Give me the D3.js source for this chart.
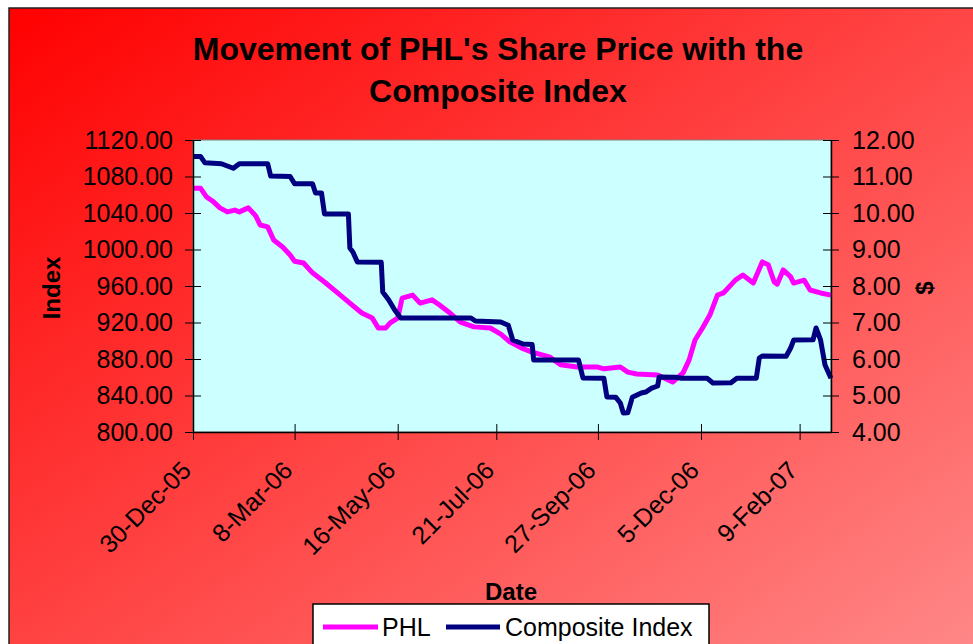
<!DOCTYPE html>
<html>
<head>
<meta charset="utf-8">
<script src="https://cdn.jsdelivr.net/npm/d3@7"></script>
<style>
  html, body { margin: 0; padding: 0; background: #fff; }
  text { font-family: "Liberation Sans", Arial, sans-serif; }
</style>
</head>
<body>
<script>
// Composite Index (left axis)
var compDates = ["2005-12-30","2006-01-04","2006-01-07","2006-01-18","2006-01-22","2006-01-26","2006-01-30",
  "2006-02-18","2006-02-20","2006-03-05","2006-03-08","2006-03-20","2006-03-22","2006-03-26","2006-03-28",
  "2006-04-13","2006-04-14","2006-04-16","2006-04-19","2006-05-05","2006-05-06","2006-05-10","2006-05-14",
  "2006-05-18","2006-07-04","2006-07-07","2006-07-24","2006-07-29","2006-08-01","2006-08-08","2006-08-14",
  "2006-08-15","2006-09-14","2006-09-17","2006-10-01","2006-10-03","2006-10-09","2006-10-12","2006-10-14",
  "2006-10-17","2006-10-20","2006-10-26","2006-10-29","2006-11-02","2006-11-06","2006-11-07","2006-11-18",
  "2006-11-22","2006-12-09","2006-12-13","2006-12-25","2006-12-29","2007-01-11","2007-01-13","2007-01-15",
  "2007-01-31","2007-02-03","2007-02-05","2007-02-18","2007-02-20","2007-02-23","2007-02-26","2007-03-02"];
var compValues = [1102,1102,1095,1094,1091.5,1089,1094,
  1094,1080.5,1080,1072,1072,1062,1062,1039,
  1039,1001.6,997.3,986.3,986,953.4,944.7,933.7,
  925,925,921.6,920.5,917,900.8,896.4,896,
  879,879,859.2,859,838.4,838,831.8,820.8,
  821,838,842.7,843.8,848,850.4,860.3,860,
  859,859,853.7,854,859,859,881.1,883.3,
  883,892,900.8,901,914,901,873.4,859];

// PHL share price (right axis, $)
var phlDates = ["2005-12-30","2006-01-04","2006-01-08","2006-01-12","2006-01-17","2006-01-22","2006-01-27",
  "2006-01-30","2006-02-05","2006-02-10","2006-02-13","2006-02-18","2006-02-22","2006-02-28","2006-03-05",
  "2006-03-08","2006-03-14","2006-03-20","2006-03-28","2006-04-05","2006-04-14","2006-04-22","2006-04-29",
  "2006-05-03","2006-05-08","2006-05-11","2006-05-16","2006-05-19","2006-05-26","2006-05-31","2006-06-08",
  "2006-06-13","2006-06-20","2006-06-27","2006-07-06","2006-07-17","2006-07-24","2006-07-30","2006-08-07",
  "2006-08-14","2006-08-26","2006-09-02","2006-09-13","2006-09-27","2006-10-01","2006-10-12","2006-10-17",
  "2006-10-23","2006-11-06","2006-11-16","2006-11-23","2006-11-27","2006-12-01","2006-12-06","2006-12-11",
  "2006-12-16","2006-12-20","2006-12-28","2007-01-02","2007-01-09","2007-01-15","2007-01-19","2007-01-23",
  "2007-01-25","2007-01-29","2007-02-03","2007-02-05","2007-02-12","2007-02-16","2007-02-23","2007-03-02"];
var phlValues = [10.68,10.68,10.44,10.33,10.14,10.03,10.08,
  10.03,10.14,9.92,9.67,9.62,9.26,9.07,8.85,
  8.68,8.63,8.36,8.11,7.84,7.53,7.26,7.12,
  6.85,6.85,6.99,7.12,7.67,7.75,7.53,7.62,
  7.48,7.26,7.01,6.88,6.85,6.68,6.47,6.30,
  6.19,6.05,5.84,5.78,5.78,5.73,5.78,5.64,
  5.59,5.56,5.37,5.62,5.97,6.52,6.85,7.21,
  7.75,7.81,8.16,8.30,8.08,8.66,8.58,8.11,
  8.05,8.44,8.25,8.08,8.16,7.89,7.81,7.75];

var xTickDates = ["2005-12-30","2006-03-08","2006-05-16","2006-07-21","2006-09-27","2006-12-05","2007-02-09"];
var indexTicks = [800,840,880,920,960,1000,1040,1080,1120];
var priceTicks = [4,5,6,7,8,9,10,11,12];

function drawChart() {
  var W = 973, H = 644;
  var pLeft = 193, pRight = 831, pTop = 140, pBottom = 432;
  var parse = d3.timeParse("%Y-%m-%d");

  var svg = d3.select("body").append("svg").attr("width", W).attr("height", H);

  // background gradient
  var grad = svg.append("defs").append("linearGradient")
    .attr("id", "bg").attr("x1", "0%").attr("y1", "0%").attr("x2", "100%").attr("y2", "100%");
  grad.append("stop").attr("offset", "0%").attr("stop-color", "#ff0000");
  grad.append("stop").attr("offset", "100%").attr("stop-color", "#ff9090");

  svg.append("rect").attr("x", 9).attr("y", 8).attr("width", 1000).attr("height", 700)
    .attr("fill", "url(#bg)").attr("stroke", "#222").attr("stroke-width", 1.5);

  var x = d3.scaleTime().domain([parse("2005-12-30"), parse("2007-03-02")]).range([pLeft, pRight]);
  var yL = d3.scaleLinear().domain([800, 1120]).range([pBottom, pTop]);
  var yR = d3.scaleLinear().domain([4, 12]).range([pBottom, pTop]);

  // plot area
  svg.append("rect").attr("x", pLeft).attr("y", pTop).attr("width", pRight - pLeft).attr("height", pBottom - pTop)
    .attr("fill", "#ccffff").attr("stroke", "#808080").attr("stroke-width", 1);

  // title
  svg.append("text").attr("x", 498).attr("y", 60).attr("text-anchor", "middle")
    .attr("font-size", 32).attr("font-weight", "bold").text("Movement of PHL's Share Price with the");
  svg.append("text").attr("x", 498).attr("y", 102).attr("text-anchor", "middle")
    .attr("font-size", 32).attr("font-weight", "bold").text("Composite Index");

  // lines
  var comp = compDates.map(function (d, i) { return [parse(d), compValues[i]]; });
  var phl = phlDates.map(function (d, i) { return [parse(d), phlValues[i]]; });

  svg.append("path").datum(phl)
    .attr("fill", "none").attr("stroke", "#ff00ff").attr("stroke-width", 5).attr("stroke-linejoin", "round")
    .attr("d", d3.line().x(function (d) { return x(d[0]); }).y(function (d) { return yR(d[1]); }));

  svg.append("path").datum(comp)
    .attr("fill", "none").attr("stroke", "#000080").attr("stroke-width", 5).attr("stroke-linejoin", "round")
    .attr("d", d3.line().x(function (d) { return x(d[0]); }).y(function (d) { return yL(d[1]); }));

  // axes
  var fmt = d3.format(".2f");
  var gL = svg.append("g").attr("transform", "translate(" + pLeft + ",0)")
    .call(d3.axisLeft(yL).tickValues(indexTicks).tickFormat(fmt).tickSize(8).tickSizeOuter(0).tickPadding(12));
  gL.selectAll(".tick line").attr("x1", 8);

  var gR = svg.append("g").attr("transform", "translate(" + pRight + ",0)")
    .call(d3.axisRight(yR).tickValues(priceTicks).tickFormat(fmt).tickSize(8).tickSizeOuter(0).tickPadding(13));
  gR.selectAll(".tick line").attr("x1", -8);

  var gB = svg.append("g").attr("transform", "translate(0," + pBottom + ")")
    .call(d3.axisBottom(x).tickValues(xTickDates.map(parse)).tickFormat(d3.timeFormat("%-d-%b-%y"))
      .tickSize(8).tickSizeOuter(0));
  gB.selectAll(".tick line").attr("y1", -8);
  gB.selectAll(".tick text")
    .attr("x", null).attr("y", null).attr("dy", null)
    .attr("text-anchor", "end")
    .attr("transform", "translate(-1,40) rotate(-45)");

  [gL, gR, gB].forEach(function (g) {
    g.select(".domain").attr("stroke", "#000").attr("stroke-width", 1.5);
    g.selectAll(".tick line").attr("stroke", "#000");
    g.selectAll(".tick text").attr("font-size", 25).attr("fill", "#000")
      .attr("font-family", "'Liberation Sans', Arial, sans-serif");
  });

  // axis titles
  svg.append("text").attr("transform", "translate(60,288) rotate(-90)").attr("text-anchor", "middle")
    .attr("font-size", 24).attr("font-weight", "bold").text("Index");
  svg.append("text").attr("transform", "translate(933,288) rotate(-90)").attr("text-anchor", "middle")
    .attr("font-size", 24).attr("font-weight", "bold").text("$");
  svg.append("text").attr("x", 511).attr("y", 600).attr("text-anchor", "middle")
    .attr("font-size", 24).attr("font-weight", "bold").text("Date");

  // legend
  var lg = svg.append("g");
  lg.append("rect").attr("x", 313).attr("y", 604).attr("width", 396).attr("height", 60)
    .attr("fill", "#fff").attr("stroke", "#000").attr("stroke-width", 1.5);
  lg.append("line").attr("x1", 323).attr("x2", 378).attr("y1", 627).attr("y2", 627)
    .attr("stroke", "#ff00ff").attr("stroke-width", 5);
  lg.append("text").attr("x", 382).attr("y", 636).attr("font-size", 25).text("PHL");
  lg.append("line").attr("x1", 446).attr("x2", 500).attr("y1", 627).attr("y2", 627)
    .attr("stroke", "#000080").attr("stroke-width", 5);
  lg.append("text").attr("x", 505).attr("y", 636).attr("font-size", 25).text("Composite Index");
}

drawChart();
</script>
</body>
</html>
